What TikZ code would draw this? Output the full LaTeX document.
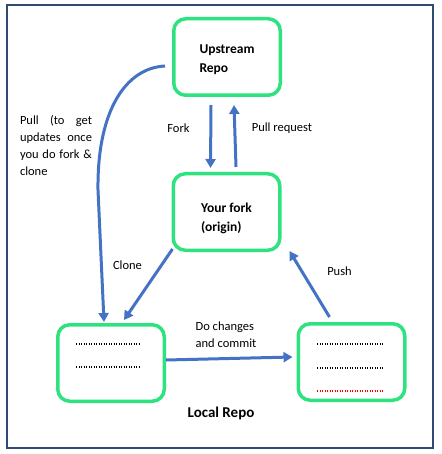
\documentclass[tikz,border=0pt]{standalone}
\usepackage{fontspec}
\setmainfont{Carlito}
\usetikzlibrary{arrows.meta}
\definecolor{framecol}{HTML}{2F4B72}
\definecolor{boxgreen}{HTML}{2EE27F}
\definecolor{arrowblue}{HTML}{4472C4}

\begin{document}
\begin{tikzpicture}[x=1pt,y=-1pt,
    repo/.style={draw=boxgreen,line width=3.5pt,rounded corners=12pt,minimum width=106.5pt,minimum height=76.5pt},
    repotext/.style={align=left,font=\bfseries\fontsize{13.5}{19}\selectfont},
    flow/.style={arrowblue,line width=3pt,-{Triangle[width=10pt,length=9pt]}},
    lbl/.style={font=\fontsize{12.5}{17}\selectfont,align=left},
    dotrow/.style={line width=1.8pt,dash pattern=on 1.4pt off 1.1pt}]
  \useasboundingbox (0,0) rectangle (441,454);
  \draw[framecol,line width=2pt] (7,5) rectangle (433,448);
  % repos
  \node[repo] (upstream) at (227,57) {};
  \node[repotext] (upstreamtxt) at ([yshift=-3pt]upstream.center) {Upstream\\Repo};
  \node[repo] (fork) at (226.5,212) {};
  \node[repotext] (forktxt) at ([yshift=-6pt]fork.center) {Your fork\\(origin)};
  \node[repo] (local) at (111,363) {};
  \node[repo] (changed) at (351.5,362) {};
  \draw[dotrow] ([shift={(-35,-19)}]local.center) -- ++(63,0);
  \draw[dotrow] ([shift={(-35,4)}]local.center) -- ++(63,0);
  \draw[dotrow] ([shift={(-34.5,-18)}]changed.center) -- ++(67,0);
  \draw[dotrow] ([shift={(-34.5,6)}]changed.center) -- ++(67,0);
  \draw[dotrow,red] ([shift={(-34.5,29)}]changed.center) -- ++(67,0);
  % arrows
  \draw[flow] ([xshift=-16pt,yshift=-8pt]upstream.south) -- ([xshift=-16pt,yshift=4pt]fork.north);
  \draw[flow] ([xshift=9.5pt,yshift=5pt]fork.north) -- ([xshift=7pt,yshift=-8pt]upstream.south);
  \draw[flow] ([xshift=-7pt,yshift=-9pt]upstream.west) .. controls (125,68) and (97,112) .. (98,190) -- ([xshift=-7pt,yshift=1pt]local.north);
  \draw[flow] ([xshift=1pt,yshift=3pt]fork.south west) -- ([xshift=13pt,yshift=3pt]local.north);
  \draw[flow] ([xshift=-22pt,yshift=5pt]changed.north) -- ([xshift=8pt,yshift=1pt]fork.south east);
  \draw[flow] ([yshift=3pt]local.east) -- ([xshift=-4pt,yshift=5pt]changed.west);
  % labels
  \node[lbl] (forklbl) at (178.5,128) {Fork};
  \node[lbl] (prlbl) at (282,128) {Pull request};
  \node[lbl,text width=72pt,align=justify,inner sep=0pt] (pulllbl) at (56,145) {Pull (to get\linebreak updates once\linebreak you do fork \&\linebreak clone};
  \node[lbl] (clonelbl) at (127.5,265) {Clone};
  \node[lbl] (pushlbl) at (339.5,271) {Push};
  \node[lbl] (commitlbl) at (226,335) {Do changes\\and commit};
  \node[font=\bfseries\fontsize{15}{18}\selectfont] (locallbl) at (221,413) {Local Repo};
\end{tikzpicture}
\end{document}
